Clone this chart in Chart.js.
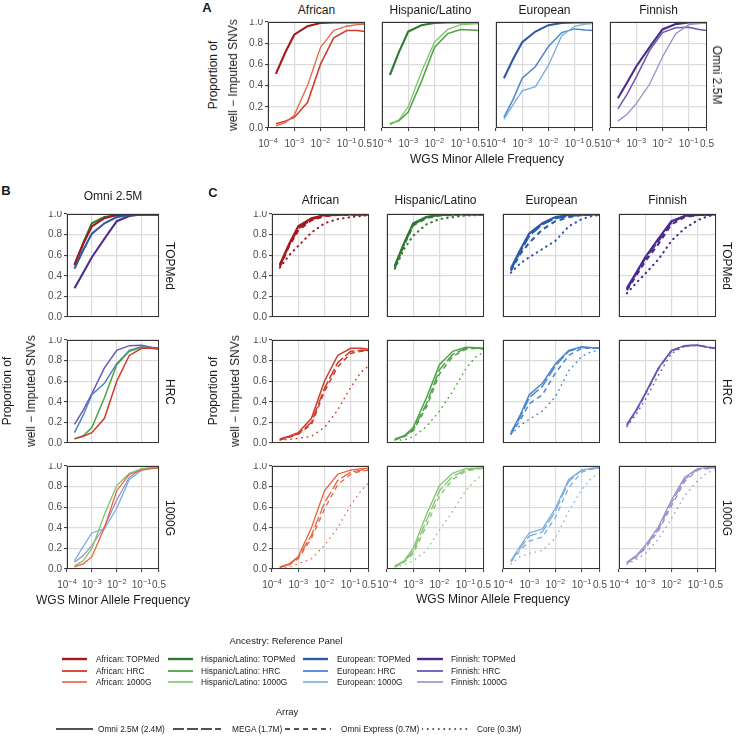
<!DOCTYPE html>
<html>
<head>
<meta charset="utf-8">
<script src="https://cdn.jsdelivr.net/npm/chart.js@4.4.1/dist/chart.umd.min.js"></script>
<style>
  html, body { margin: 0; padding: 0; background: #fff; }
  #fig { position: relative; width: 738px; height: 737px; overflow: hidden; font-family: "Liberation Sans", Arial, sans-serif; color: #1a1a1a; }
  .t { position: absolute; white-space: nowrap; line-height: 1; }
  .box { position: absolute; }
</style>
</head>
<body>
<div id="fig"></div>
<script>
// x positions of the MAF bins and the axis ticks
const maf = [2e-4, 4.5e-4, 1e-3, 3.2e-3, 1e-2, 3.2e-2, 1e-1, 2.5e-1, 5e-1];
const xTickValues = [1e-4, 1e-3, 1e-2, 1e-1, 0.5];
const xTickBase = ["10", "10", "10", "10", "0.5"];
const xTickExp = ["\u22124", "\u22123", "\u22122", "\u22121", ""];
const yTickValues = [0, 0.2, 0.4, 0.6, 0.8, 1.0];
const yTickLabels = ["0.0", "0.2", "0.4", "0.6", "0.8", "1.0"];

const ancestries = ["African", "Hispanic/Latino", "European", "Finnish"];
const refPanels = ["TOPMed", "HRC", "1000G"];
const arrays = ["Omni 2.5M (2.4M)", "MEGA (1.7M)", "Omni Express (0.7M)", "Core (0.3M)"];

// rows: Omni 2.5M, MEGA, Omni Express, Core
const african_TOPMed = [
  [0.51, 0.71, 0.88, 0.96, 0.99, 0.995, 0.995, 0.995, 0.995],
  [0.50, 0.70, 0.86, 0.95, 0.985, 0.993, 0.995, 0.995, 0.995],
  [0.49, 0.69, 0.84, 0.94, 0.98, 0.99, 0.995, 0.995, 0.995],
  [0.48, 0.60, 0.69, 0.82, 0.91, 0.95, 0.97, 0.98, 0.99]
];
const hispanic_TOPMed = [
  [0.50, 0.72, 0.91, 0.97, 0.99, 0.995, 0.995, 0.995, 0.995],
  [0.49, 0.71, 0.90, 0.97, 0.99, 0.995, 0.995, 0.995, 0.995],
  [0.48, 0.70, 0.89, 0.96, 0.985, 0.99, 0.995, 0.995, 0.995],
  [0.47, 0.66, 0.79, 0.90, 0.95, 0.97, 0.985, 0.99, 0.99]
];
const european_TOPMed = [
  [0.47, 0.65, 0.81, 0.91, 0.97, 0.99, 0.995, 0.995, 0.995],
  [0.46, 0.63, 0.79, 0.90, 0.96, 0.98, 0.99, 0.995, 0.995],
  [0.45, 0.61, 0.72, 0.85, 0.93, 0.97, 0.99, 0.99, 0.995],
  [0.43, 0.52, 0.58, 0.66, 0.74, 0.88, 0.95, 0.98, 0.99]
];
const finnish_TOPMed = [
  [0.28, 0.43, 0.58, 0.76, 0.93, 0.98, 0.995, 0.995, 0.995],
  [0.27, 0.42, 0.57, 0.74, 0.92, 0.98, 0.99, 0.995, 0.995],
  [0.26, 0.40, 0.54, 0.71, 0.90, 0.97, 0.99, 0.99, 0.995],
  [0.23, 0.33, 0.42, 0.56, 0.74, 0.86, 0.94, 0.98, 0.99]
];
const african_HRC = [
  [0.04, 0.065, 0.10, 0.24, 0.60, 0.85, 0.92, 0.92, 0.91],
  [0.035, 0.06, 0.09, 0.20, 0.53, 0.78, 0.89, 0.90, 0.90],
  [0.03, 0.055, 0.085, 0.18, 0.50, 0.74, 0.87, 0.89, 0.89],
  [0.03, 0.035, 0.045, 0.065, 0.15, 0.32, 0.54, 0.69, 0.75]
];
const hispanic_HRC = [
  [0.04, 0.07, 0.15, 0.44, 0.76, 0.89, 0.93, 0.925, 0.92],
  [0.035, 0.065, 0.13, 0.38, 0.71, 0.86, 0.92, 0.92, 0.92],
  [0.03, 0.06, 0.12, 0.35, 0.67, 0.84, 0.91, 0.92, 0.91],
  [0.03, 0.03, 0.06, 0.16, 0.31, 0.50, 0.72, 0.84, 0.88]
];
const european_HRC = [
  [0.10, 0.27, 0.47, 0.58, 0.77, 0.90, 0.935, 0.925, 0.92],
  [0.09, 0.25, 0.44, 0.55, 0.75, 0.89, 0.93, 0.92, 0.92],
  [0.085, 0.22, 0.38, 0.47, 0.68, 0.85, 0.92, 0.92, 0.92],
  [0.085, 0.17, 0.23, 0.31, 0.45, 0.70, 0.84, 0.89, 0.90]
];
const finnish_HRC = [
  [0.18, 0.32, 0.48, 0.73, 0.90, 0.945, 0.95, 0.93, 0.92],
  [0.175, 0.315, 0.475, 0.725, 0.895, 0.945, 0.95, 0.93, 0.92],
  [0.17, 0.31, 0.47, 0.72, 0.89, 0.94, 0.95, 0.93, 0.92],
  [0.16, 0.28, 0.42, 0.66, 0.87, 0.94, 0.95, 0.93, 0.92]
];
const african_1000G = [
  [0.02, 0.05, 0.12, 0.40, 0.76, 0.92, 0.96, 0.975, 0.98],
  [0.015, 0.045, 0.11, 0.33, 0.64, 0.86, 0.94, 0.96, 0.97],
  [0.015, 0.04, 0.10, 0.30, 0.58, 0.82, 0.92, 0.95, 0.96],
  [0.01, 0.02, 0.05, 0.10, 0.23, 0.40, 0.62, 0.76, 0.84]
];
const hispanic_1000G = [
  [0.03, 0.08, 0.20, 0.53, 0.81, 0.93, 0.975, 0.98, 0.985],
  [0.025, 0.07, 0.17, 0.47, 0.76, 0.90, 0.96, 0.975, 0.98],
  [0.02, 0.065, 0.15, 0.42, 0.71, 0.87, 0.95, 0.97, 0.975],
  [0.02, 0.04, 0.08, 0.18, 0.38, 0.56, 0.76, 0.87, 0.92]
];
const european_1000G = [
  [0.08, 0.22, 0.35, 0.39, 0.59, 0.87, 0.96, 0.98, 0.985],
  [0.075, 0.20, 0.32, 0.36, 0.56, 0.85, 0.96, 0.975, 0.98],
  [0.07, 0.18, 0.27, 0.31, 0.50, 0.79, 0.94, 0.97, 0.975],
  [0.05, 0.12, 0.15, 0.18, 0.30, 0.56, 0.77, 0.89, 0.93]
];
const finnish_1000G = [
  [0.065, 0.13, 0.23, 0.41, 0.67, 0.89, 0.975, 0.985, 0.99],
  [0.06, 0.12, 0.21, 0.39, 0.64, 0.87, 0.97, 0.98, 0.985],
  [0.055, 0.11, 0.20, 0.37, 0.61, 0.85, 0.96, 0.975, 0.98],
  [0.045, 0.09, 0.15, 0.29, 0.49, 0.71, 0.86, 0.94, 0.96]
];

const table = {
  "African|TOPMed": african_TOPMed, "African|HRC": african_HRC, "African|1000G": african_1000G,
  "Hispanic/Latino|TOPMed": hispanic_TOPMed, "Hispanic/Latino|HRC": hispanic_HRC, "Hispanic/Latino|1000G": hispanic_1000G,
  "European|TOPMed": european_TOPMed, "European|HRC": european_HRC, "European|1000G": european_1000G,
  "Finnish|TOPMed": finnish_TOPMed, "Finnish|HRC": finnish_HRC, "Finnish|1000G": finnish_1000G
};

// styles
const colours = {
  "African": ["#a3191d", "#cf3a2c", "#e6633f"],
  "Hispanic/Latino": ["#2f7a30", "#4ea347", "#80c46d"],
  "European": ["#2d5aa7", "#4b86cc", "#7badde"],
  "Finnish": ["#4d2a8d", "#6a5ab4", "#9990ca"]
};
const panelWidth = [2.1, 1.5, 1.3];
const dashes = [[], [11, 3], [5, 4], [0.5, 5]];

const FONT = '"Liberation Sans", Arial, sans-serif';
const GRID = "#dcdcdc";
const AXIS = "#333333";
const TICK = "#4d4d4d";

Chart.defaults.font.family = FONT;
Chart.defaults.color = TICK;

const fig = document.getElementById("fig");

const framePlugin = {
  id: "frame",
  afterDraw(chart) {
    const a = chart.chartArea;
    const ctx = chart.ctx;
    ctx.save();
    ctx.strokeStyle = AXIS;
    ctx.lineWidth = 1;
    ctx.strokeRect(Math.round(a.left) + 0.5, Math.round(a.top) + 0.5, Math.round(a.right - a.left) - 1, Math.round(a.bottom - a.top) - 1);
    ctx.restore();
  }
};

// x labels with a raised exponent, placed by the x scale
const expTickPlugin = {
  id: "expTicks",
  afterDraw(chart, args, opts) {
    if (!opts.display) return;
    const s = chart.scales.x;
    const ctx = chart.ctx;
    const base = chart.chartArea.bottom + 19;
    ctx.save();
    ctx.fillStyle = TICK;
    ctx.textBaseline = "alphabetic";
    ctx.textAlign = "left";
    xTickValues.forEach((v, i) => {
      ctx.font = "10px " + FONT;
      const wb = ctx.measureText(xTickBase[i]).width;
      let we = 0;
      if (xTickExp[i]) {
        ctx.font = "7.5px " + FONT;
        we = ctx.measureText(xTickExp[i]).width;
      }
      const x0 = s.getPixelForValue(v) - (wb + we) / 2;
      ctx.font = "10px " + FONT;
      ctx.fillText(xTickBase[i], x0, base);
      if (xTickExp[i]) {
        ctx.font = "7.5px " + FONT;
        ctx.fillText(xTickExp[i], x0 + wb, base - 4.5);
      }
    });
    ctx.restore();
  }
};

function lineSet(values, colour, width, dash) {
  return {
    data: maf.map((x, i) => ({ x: x, y: values[i] })),
    borderColor: colour,
    borderWidth: width,
    borderDash: dash,
    borderCapStyle: dash.length && dash[0] < 1 ? "round" : "butt",
    pointRadius: 0,
    tension: 0,
    fill: false
  };
}

function makePanel(x, y, w, h, datasets, showX, showY) {
  const padL = 36, padR = 16, padT = 3, padB = 24;
  const cw = w + padL + padR, ch = h + padT + padB;
  const holder = document.createElement("div");
  holder.className = "box";
  holder.style.left = (x - padL) + "px";
  holder.style.top = (y - padT) + "px";
  const canvas = document.createElement("canvas");
  canvas.width = cw;
  canvas.height = ch;
  canvas.style.width = cw + "px";
  canvas.style.height = ch + "px";
  holder.appendChild(canvas);
  fig.appendChild(holder);

  new Chart(canvas, {
    type: "line",
    data: { datasets: datasets },
    options: {
      responsive: false,
      animation: false,
      devicePixelRatio: 1,
      layout: { padding: { top: padT, right: padR, left: 0, bottom: 0 } },
      plugins: { legend: { display: false }, tooltip: { enabled: false }, expTicks: { display: showX } },
      scales: {
        x: {
          type: "logarithmic",
          min: 1e-4,
          max: 0.5,
          afterBuildTicks: (s) => { s.ticks = xTickValues.map(v => ({ value: v })); },
          afterFit: (s) => { s.height = padB; s.paddingLeft = 0; s.paddingRight = 0; },
          border: { display: false },
          grid: { color: GRID, lineWidth: 1.2, drawTicks: showX, tickLength: 3, tickColor: AXIS, tickWidth: 1 },
          ticks: { display: false, autoSkip: false, maxRotation: 0 }
        },
        y: {
          min: 0,
          max: 1,
          afterBuildTicks: (s) => { s.ticks = yTickValues.map(v => ({ value: v })); },
          afterFit: (s) => { s.width = padL; s.paddingTop = 0; s.paddingBottom = 0; },
          border: { display: false },
          grid: { color: GRID, lineWidth: 1.2, drawTicks: showY, tickLength: 3, tickColor: AXIS, tickWidth: 1 },
          ticks: {
            display: showY, padding: 2, font: { size: 10 }, color: TICK,
            callback: (v, i) => yTickLabels[i]
          }
        }
      }
    },
    plugins: [framePlugin, expTickPlugin]
  });
}

function label(text, x, y, opt) {
  opt = opt || {};
  const d = document.createElement("div");
  d.className = "t";
  d.textContent = text;
  d.style.left = x + "px";
  d.style.top = y + "px";
  d.style.fontSize = (opt.size || 12) + "px";
  if (opt.bold) d.style.fontWeight = "bold";
  if (opt.rot) {
    d.style.transformOrigin = "0 0";
    d.style.transform = "rotate(" + opt.rot + "deg) translate(-50%,-50%)";
  } else {
    d.style.transform = "translate(" + (opt.align === "left" ? "0" : "-50%") + ",-50%)";
  }
  fig.appendChild(d);
}

// ---------- panel A : Omni 2.5M, every reference panel ----------
const A_LEFT = [268, 382, 496, 610];
const A_TOP = 22, A_W = 97, A_H = 106;
ancestries.forEach((anc, i) => {
  const sets = refPanels.map((rp, r) => lineSet(table[anc + "|" + rp][0], colours[anc][r], panelWidth[r], dashes[0])).reverse();
  makePanel(A_LEFT[i], A_TOP, A_W, A_H, sets, true, i === 0);
  label(anc, A_LEFT[i] + A_W / 2, 10);
});
label("A", 207, 7, { bold: true, size: 13 });
label("Omni 2.5M", 717, A_TOP + A_H / 2, { rot: 90 });
label("Proportion of", 213, A_TOP + A_H / 2, { rot: -90 });
label("well \u2212 Imputed SNVs", 233, A_TOP + A_H / 2, { rot: -90 });
label("WGS Minor Allele Frequency", 487, 159);

// ---------- panel B : Omni 2.5M by reference panel ----------
const ROW_TOP = [214, 340, 466];
const ROW_H = 103;
const B_LEFT = 67, B_W = 92;
refPanels.forEach((rp, r) => {
  const sets = ancestries.map(anc => lineSet(table[anc + "|" + rp][0], colours[anc][r], panelWidth[r], dashes[0]));
  makePanel(B_LEFT, ROW_TOP[r], B_W, ROW_H, sets, r === 2, true);
  label(rp, 170, ROW_TOP[r] + ROW_H / 2, { rot: 90 });
});
label("B", 6, 190, { bold: true, size: 13 });
label("Omni 2.5M", B_LEFT + B_W / 2, 196);
label("Proportion of", 7, 391, { rot: -90 });
label("well \u2212 Imputed SNVs", 31, 391, { rot: -90 });
label("WGS Minor Allele Frequency", 113, 600);

// ---------- panel C : every array ----------
const C_LEFT = [272, 387, 503, 619];
const C_W = 97;
refPanels.forEach((rp, r) => {
  ancestries.forEach((anc, i) => {
    const rows = table[anc + "|" + rp];
    const sets = [3, 2, 1, 0].map(k => lineSet(rows[k], colours[anc][r], panelWidth[r], dashes[k]));
    makePanel(C_LEFT[i], ROW_TOP[r], C_W, ROW_H, sets, r === 2, i === 0);
  });
  label(rp, 727, ROW_TOP[r] + ROW_H / 2, { rot: 90 });
});
ancestries.forEach((anc, i) => label(anc, C_LEFT[i] + C_W / 2, 200));
label("C", 213, 192, { bold: true, size: 13 });
label("Proportion of", 213, 391, { rot: -90 });
label("well \u2212 Imputed SNVs", 235, 391, { rot: -90 });
label("WGS Minor Allele Frequency", 493, 599);

// ---------- legends ----------
function keyLine(x1, x2, y, colour, width, dash) {
  const svgNS = "http://www.w3.org/2000/svg";
  const svg = document.createElementNS(svgNS, "svg");
  svg.setAttribute("width", x2 - x1);
  svg.setAttribute("height", 8);
  svg.style.position = "absolute";
  svg.style.left = x1 + "px";
  svg.style.top = (y - 4) + "px";
  const ln = document.createElementNS(svgNS, "line");
  ln.setAttribute("x1", 0);
  ln.setAttribute("x2", x2 - x1);
  ln.setAttribute("y1", 4);
  ln.setAttribute("y2", 4);
  ln.setAttribute("stroke", colour);
  ln.setAttribute("stroke-width", width);
  if (dash.length) ln.setAttribute("stroke-dasharray", dash.join(" "));
  if (dash.length && dash[0] < 1) ln.setAttribute("stroke-linecap", "round");
  svg.appendChild(ln);
  fig.appendChild(svg);
}

label("Ancestry: Reference Panel", 286, 641, { size: 9.5 });
const LEG_COL_KEY = [[62, 87], [168, 193], [303, 328], [417, 443]];
const LEG_COL_TXT = [96, 201, 337, 451];
const LEG_ROW = [659, 671, 682];
ancestries.forEach((anc, i) => {
  refPanels.forEach((rp, r) => {
    keyLine(LEG_COL_KEY[i][0], LEG_COL_KEY[i][1], LEG_ROW[r], colours[anc][r], panelWidth[r] + 0.3, []);
    label(anc + ": " + rp, LEG_COL_TXT[i], LEG_ROW[r], { size: 8.3, align: "left" });
  });
});

label("Array", 287, 712, { size: 9.5 });
const ARR_KEY = [[56, 93], [173, 221], [285, 331], [422, 468]];
const ARR_TXT = [98, 232, 341, 477];
arrays.forEach((a, k) => {
  keyLine(ARR_KEY[k][0], ARR_KEY[k][1], 729, "#1a1a1a", 1.5, dashes[k]);
  label(a, ARR_TXT[k], 729, { size: 8.3, align: "left" });
});
</script>
</body>
</html>
